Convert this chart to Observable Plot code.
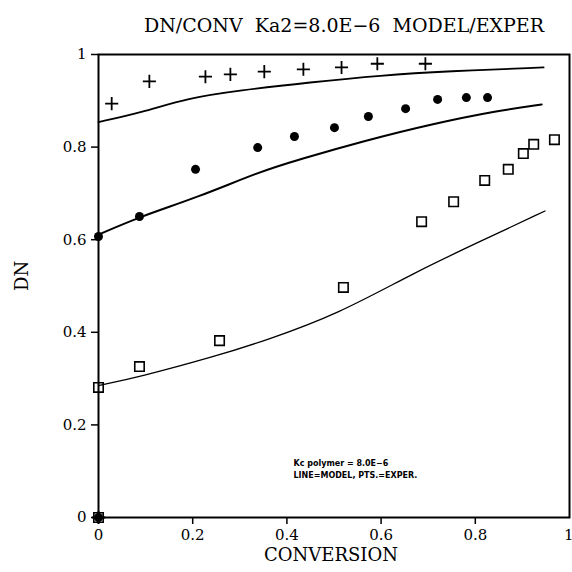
<!DOCTYPE html>
<html>
<head>
<meta charset="utf-8">
<script src="https://cdn.jsdelivr.net/npm/d3@7"></script>
<script src="https://cdn.jsdelivr.net/npm/@observablehq/plot@0.6"></script>
<style>
  html, body { margin: 0; padding: 0; background: #fff; }
</style>
</head>
<body>
<div id="chart"></div>
<script>
// Title and labels
const titleText = "DN/CONV  Ka2=8.0E\u22126  MODEL/EXPER";
const xLabel = "CONVERSION";
const yLabel = "DN";
const noteLines = ["Kc polymer = 8.0E\u22126", "LINE=MODEL, PTS.=EXPER."];
const noteX = [0.414, 0.414];
const noteY = [0.117, 0.090];
const tickValues = [0, 0.2, 0.4, 0.6, 0.8, 1];
const xTicksInner = [0, 0.2, 0.4, 0.6, 0.8];
const xTicksLast = [1];

// Experimental points: plus series
const plusX = [0, 0.028, 0.108, 0.227, 0.28, 0.352, 0.435, 0.516, 0.592, 0.694];
const plusY = [0, 0.894, 0.942, 0.952, 0.957, 0.963, 0.968, 0.972, 0.980, 0.980];
// Filled circle series
const dotX = [0, 0, 0.087, 0.206, 0.338, 0.416, 0.501, 0.573, 0.652, 0.720, 0.781, 0.826];
const dotY = [0, 0.607, 0.650, 0.752, 0.799, 0.823, 0.842, 0.866, 0.883, 0.903, 0.907, 0.907];
// Open square series
const sqX = [0, 0, 0.087, 0.257, 0.520, 0.686, 0.754, 0.820, 0.870, 0.902, 0.924, 0.968];
const sqY = [0, 0.281, 0.326, 0.382, 0.497, 0.639, 0.682, 0.728, 0.752, 0.786, 0.806, 0.816];

// Model lines
const topLineX = [0, 0.092, 0.191, 0.297, 0.45, 0.60, 0.74, 0.945];
const topLineY = [0.854, 0.875, 0.906, 0.922, 0.940, 0.955, 0.964, 0.972];
const midLineX = [0, 0.0885, 0.212, 0.340, 0.425, 0.566, 0.708, 0.849, 0.941];
const midLineY = [0.611, 0.650, 0.692, 0.746, 0.773, 0.814, 0.850, 0.879, 0.892];
const lowLineX = [0, 0.085, 0.248, 0.354, 0.510, 0.672, 0.814, 0.948];
const lowLineY = [0.285, 0.303, 0.348, 0.382, 0.440, 0.530, 0.598, 0.662];

const zip = (xs, ys) => xs.map((x, i) => ({x, y: ys[i]}));
const plusPts = zip(plusX, plusY);
const dotPts = zip(dotX, dotY);
const sqPts = zip(sqX, sqY);
const topLine = zip(topLineX, topLineY);
const midLine = zip(midLineX, midLineY);
const lowLine = zip(lowLineX, lowLineY);
const notes = noteLines.map((t, i) => ({t, x: noteX[i], y: noteY[i]}));

const serif = "'DejaVu Serif', 'Liberation Serif', serif";
const fmt = d => String(d);

const chart = Plot.plot({
  width: 572,
  height: 572,
  marginLeft: 98,
  marginRight: 3,
  marginTop: 54,
  marginBottom: 55,
  style: {fontFamily: serif, fontSize: "15px", color: "#000", background: "#fff", overflow: "visible"},
  x: {domain: [0, 1], label: null},
  y: {domain: [0, 1], label: null},
  marks: [
    Plot.frame({stroke: "#000", strokeWidth: 2}),
    Plot.axisX({ticks: xTicksInner, tickFormat: fmt, tickSize: 7, tickPadding: 5, strokeWidth: 1.5, fontSize: 15, label: null}),
    Plot.axisX({ticks: xTicksLast, tickFormat: fmt, tickSize: 7, tickPadding: 5, strokeWidth: 1.5, fontSize: 15, textAnchor: "end", dx: 4, label: null}),
    Plot.axisY({ticks: tickValues, tickFormat: fmt, tickSize: 7, tickPadding: 5, strokeWidth: 1.5, fontSize: 15, label: null}),
    Plot.line(topLine, {x: "x", y: "y", curve: "basis", stroke: "#000", strokeWidth: 1.8}),
    Plot.line(midLine, {x: "x", y: "y", curve: "basis", stroke: "#000", strokeWidth: 2}),
    Plot.line(lowLine, {x: "x", y: "y", curve: "basis", stroke: "#000", strokeWidth: 1.3}),
    Plot.dot(plusPts, {x: "x", y: "y", symbol: "plus", r: 4.3, stroke: "#000", strokeWidth: 1.8}),
    Plot.dot(dotPts, {x: "x", y: "y", symbol: "circle", r: 4.5, fill: "#000", stroke: "none"}),
    Plot.dot(sqPts, {x: "x", y: "y", symbol: "square2", r: 6, stroke: "#000", strokeWidth: 1.6, fill: "none"}),
    Plot.text(notes, {x: "x", y: "y", text: "t", textAnchor: "start", fontFamily: "'DejaVu Sans', sans-serif", fontSize: 8, fontWeight: "bold"}),
    Plot.text([titleText], {frameAnchor: "top", dx: 10, dy: -36, fontSize: 19, fontFamily: serif, text: d => d}),
    Plot.text([xLabel], {frameAnchor: "bottom", dx: -3, dy: 43, fontSize: 18, fontFamily: serif, text: d => d}),
    Plot.text([yLabel], {frameAnchor: "left", dx: -76, dy: 5, rotate: -90, fontSize: 18, fontFamily: serif, text: d => d})
  ]
});
document.getElementById("chart").appendChild(chart);
</script>
</body>
</html>
